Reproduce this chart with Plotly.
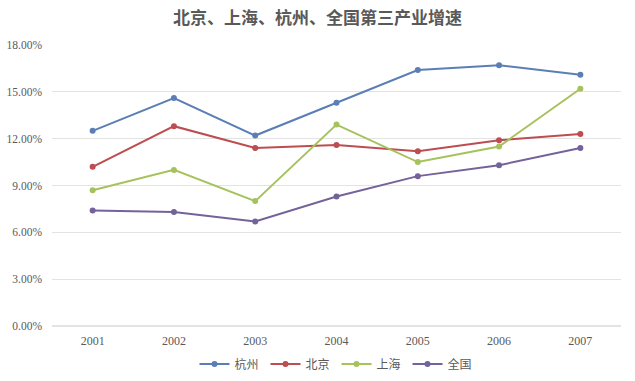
import plotly.graph_objects as go

years = ["2001", "2002", "2003", "2004", "2005", "2006", "2007"]
hangzhou = [12.5, 14.6, 12.2, 14.3, 16.4, 16.7, 16.1]
beijing = [10.2, 12.8, 11.4, 11.6, 11.2, 11.9, 12.3]
shanghai = [8.7, 10.0, 8.0, 12.9, 10.5, 11.5, 15.2]
quanguo = [7.4, 7.3, 6.7, 8.3, 9.6, 10.3, 11.4]

series = [
    ("杭州", hangzhou, "#5b7fb5"),
    ("北京", beijing, "#bc4d50"),
    ("上海", shanghai, "#a5c25c"),
    ("全国", quanguo, "#74629a"),
]

fig = go.Figure()
for name, vals, color in series:
    fig.add_trace(go.Scatter(
        x=years, y=[v / 100 for v in vals], name=name, mode="lines+markers",
        line=dict(color=color, width=2),
        marker=dict(color=color, size=6),
    ))

fig.update_layout(
    width=635, height=381,
    paper_bgcolor="white", plot_bgcolor="white",
    margin=dict(l=52, r=14, t=45, b=55, autoexpand=False),
    title=dict(text="<b>北京、上海、杭州、全国第三产业增速</b>", x=0.5, xanchor="center",
               xref="container", y=1 - 18 / 381, yanchor="middle",
               font=dict(family="Noto Sans CJK SC", size=17, color="#595959")),
    xaxis=dict(type="category", range=[-0.5, 6.5], showgrid=False, showline=False,
               automargin=False, ticks="", ticklabelstandoff=6,
               tickfont=dict(family="Liberation Serif", size=12, color="#595959")),
    yaxis=dict(range=[0, 0.18], dtick=0.03, tickformat=".2%", showgrid=True,
               gridcolor="#e3e3e3", gridwidth=1, zeroline=True, zerolinecolor="#e3e3e3",
               showline=False, ticks="", ticklabelstandoff=9, automargin=False,
               tickfont=dict(family="Liberation Serif", size=11.5, color="#595959")),
    legend=dict(orientation="h", x=0.5, xanchor="center", y=-0.135, yanchor="middle",
                font=dict(family="Noto Sans CJK SC", size=12, color="#595959"),
                itemwidth=30, entrywidth=26),
    showlegend=True,
)

fig.write_html("out.html", config={"displayModeBar": False},
               post_script="document.body.style.margin='0';")
